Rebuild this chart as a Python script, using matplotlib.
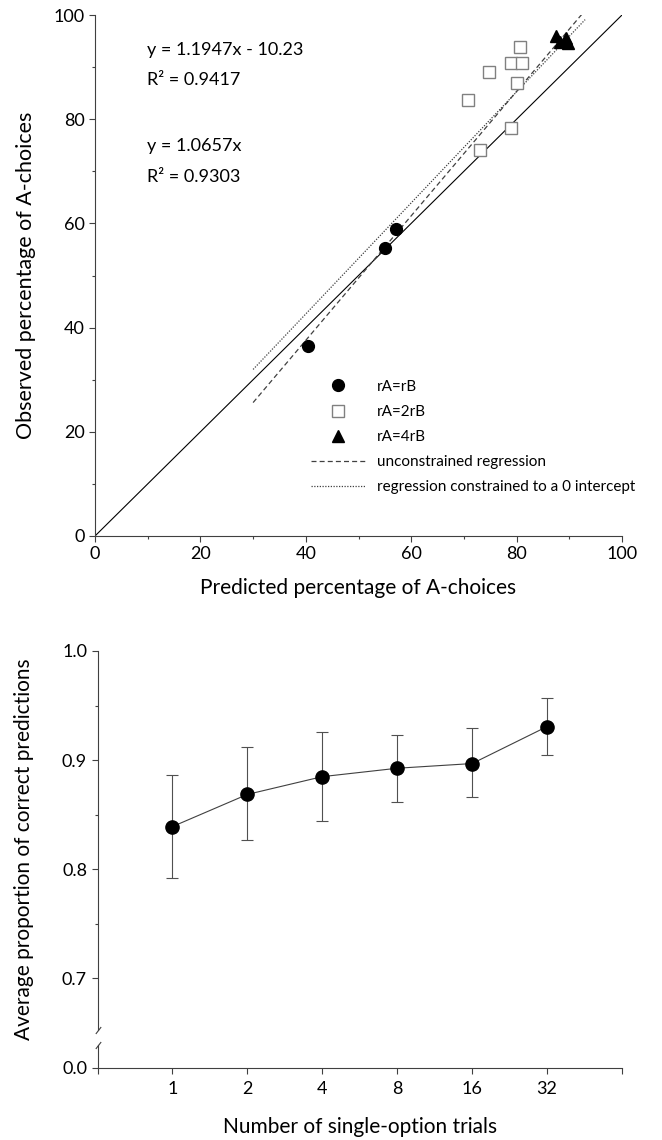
import numpy as np
import matplotlib
matplotlib.use("Agg")
import matplotlib.pyplot as plt
from matplotlib.lines import Line2D

plt.rcParams['font.family'] = ['Lato', 'DejaVu Sans']

# --- datos panel superior ---
pred_rArB = [40.4, 55.0, 57.2]
obs_rArB = [36.5, 55.2, 58.9]
pred_rA2rB = [80.6, 78.9, 81.0, 74.8, 80.0, 70.7, 78.9, 73.1]
obs_rA2rB = [93.9, 90.7, 90.8, 89.1, 87.0, 83.6, 78.3, 74.1]
pred_rA4rB = [87.4, 88.2, 89.4, 89.8]
obs_rA4rB = [96.0, 94.9, 95.6, 94.7]

pendiente_libre, intercepto_libre = 1.1947, -10.23
r2_libre = 0.9417
pendiente_cero = 1.0657
r2_cero = 0.9303

# --- datos panel inferior ---
ensayos = ["1", "2", "4", "8", "16", "32"]
proporcion = [0.839, 0.8685, 0.8848, 0.8925, 0.8968, 0.9307]
err_sup = [0.886, 0.9116, 0.9254, 0.9227, 0.9291, 0.9566]
err_inf = [0.792, 0.8263, 0.8444, 0.862, 0.866, 0.9051]

W, H = 662, 1140
fig = plt.figure(figsize=(W / 100, H / 100), dpi=100)

def caja(x0, y0, x1, y1):
    # pixeles (arriba-izquierda) -> fraccion de figura
    return [x0 / W, 1 - y1 / H, (x1 - x0) / W, (y1 - y0) / H]

gris = '#404040'

def estilo_ejes(ax):
    for s in ['top', 'right']:
        ax.spines[s].set_visible(False)
    for s in ['left', 'bottom']:
        ax.spines[s].set_color(gris)
        ax.spines[s].set_linewidth(0.8)
    ax.tick_params(direction='out', length=4, width=0.8, color=gris, labelsize=13)
    ax.tick_params(which='minor', direction='out', length=2.5, width=0.8, color=gris)

# ---------------- panel superior ----------------
ax1 = fig.add_axes(caja(95, 15, 622, 536))
estilo_ejes(ax1)
ax1.set_xlim(0, 100)
ax1.set_ylim(0, 100)
ax1.set_xticks(np.arange(0, 101, 20))
ax1.set_yticks(np.arange(0, 101, 20))
ax1.set_xticks(np.arange(10, 100, 20), minor=True)
ax1.set_yticks(np.arange(10, 100, 20), minor=True)

ax1.plot([0, 100], [0, 100], color='black', lw=0.8)
xs = np.array([30, 93])
ax1.plot(xs, pendiente_libre * xs + intercepto_libre, color=gris, lw=0.9,
         dashes=(4, 2.5))
ax1.plot(xs, pendiente_cero * xs, color=gris, lw=0.9, dashes=(1, 1.2))

ax1.plot(pred_rArB, obs_rArB, 'o', color='black', ms=8.5, zorder=5)
ax1.plot(pred_rA2rB, obs_rA2rB, 's', mfc='white', mec='#808080', mew=1.0, ms=8, zorder=5)
ax1.plot(pred_rA4rB, obs_rA4rB, '^', color='black', ms=8, zorder=5)

ax1.text(9.8, 93.3, f"y = {pendiente_libre}x - {abs(intercepto_libre)}", fontsize=13, va='center')
ax1.text(9.8, 87.5, f"R² = {r2_libre}", fontsize=13, va='center')
ax1.text(9.8, 74.8, f"y = {pendiente_cero}x", fontsize=13, va='center')
ax1.text(9.8, 69.0, f"R² = {r2_cero}", fontsize=13, va='center')

manejadores = [
    Line2D([], [], ls='none', marker='o', color='black', ms=8.5),
    Line2D([], [], ls='none', marker='s', mfc='white', mec='#808080', ms=8),
    Line2D([], [], ls='none', marker='^', color='black', ms=8),
    Line2D([], [], color=gris, lw=0.9, dashes=(4, 2.5)),
    Line2D([], [], color=gris, lw=0.9, dashes=(1, 1.2)),
]
etiquetas = ["rA=rB", "rA=2rB", "rA=4rB", "unconstrained regression",
             "regression constrained to a 0 intercept"]
ax1.legend(manejadores, etiquetas, loc='upper left', bbox_to_anchor=(0.41, 0.30),
           frameon=False, fontsize=11, handlelength=3.5, handletextpad=0.8,
           labelspacing=0.73, borderpad=0, borderaxespad=0, numpoints=1)

fig.text(358.5 / W, 1 - 588 / H, "Predicted percentage of A-choices", fontsize=15,
         ha='center', va='center')
fig.text(26 / W, 1 - 275.5 / H, "Observed percentage of A-choices", fontsize=15.5,
         rotation=90, ha='center', va='center')

# ---------------- panel inferior (eje y cortado) ----------------
pos = np.arange(1, len(ensayos) + 1)

ax2 = fig.add_axes(caja(97.5, 651, 622, 1030))
estilo_ejes(ax2)
ax2.spines['bottom'].set_visible(False)
ax2.tick_params(axis='x', which='both', bottom=False, labelbottom=False)
ax2.set_xlim(0, 7)
ax2.set_ylim(0.6525, 1.0)
ax2.set_yticks([0.7, 0.8, 0.9, 1.0])
ax2.set_yticklabels(["0.7", "0.8", "0.9", "1.0"])
ax2.set_yticks([0.75, 0.85, 0.95], minor=True)

yerr = [np.array(proporcion) - np.array(err_inf), np.array(err_sup) - np.array(proporcion)]
ax2.errorbar(pos, proporcion, yerr=yerr, fmt='none', ecolor='#505050', elinewidth=0.8,
             capsize=4, capthick=0.8)
ax2.plot(pos, proporcion, '-', color=gris, lw=0.8)
ax2.plot(pos, proporcion, 'o', color='black', ms=9.5, zorder=5)

ax3 = fig.add_axes(caja(97.5, 1045, 622, 1067.5))
estilo_ejes(ax3)
ax3.set_xlim(0, 7)
ax3.set_ylim(0, 0.02)
ax3.set_yticks([0.0])
ax3.set_yticklabels(["0.0"])
ax3.set_xticks(np.arange(0, 8))
ax3.set_xticklabels([""] + ensayos + [""])
ax3.tick_params(axis='x', pad=6)

# marcas del corte
corte = dict(marker=[(-1, -1.3), (1, 1.3)], markersize=5, linestyle='none',
             color=gris, mec=gris, mew=0.8, clip_on=False)
ax2.plot([0], [0], transform=ax2.transAxes, **corte)
ax3.plot([0], [1], transform=ax3.transAxes, **corte)

fig.text(360 / W, 1 - 1127 / H, "Number of single-option trials", fontsize=15,
         ha='center', va='center')
fig.text(24 / W, 1 - 849 / H, "Average proportion of correct predictions", fontsize=15,
         rotation=90, ha='center', va='center')

fig.savefig("out.png", dpi=100)
